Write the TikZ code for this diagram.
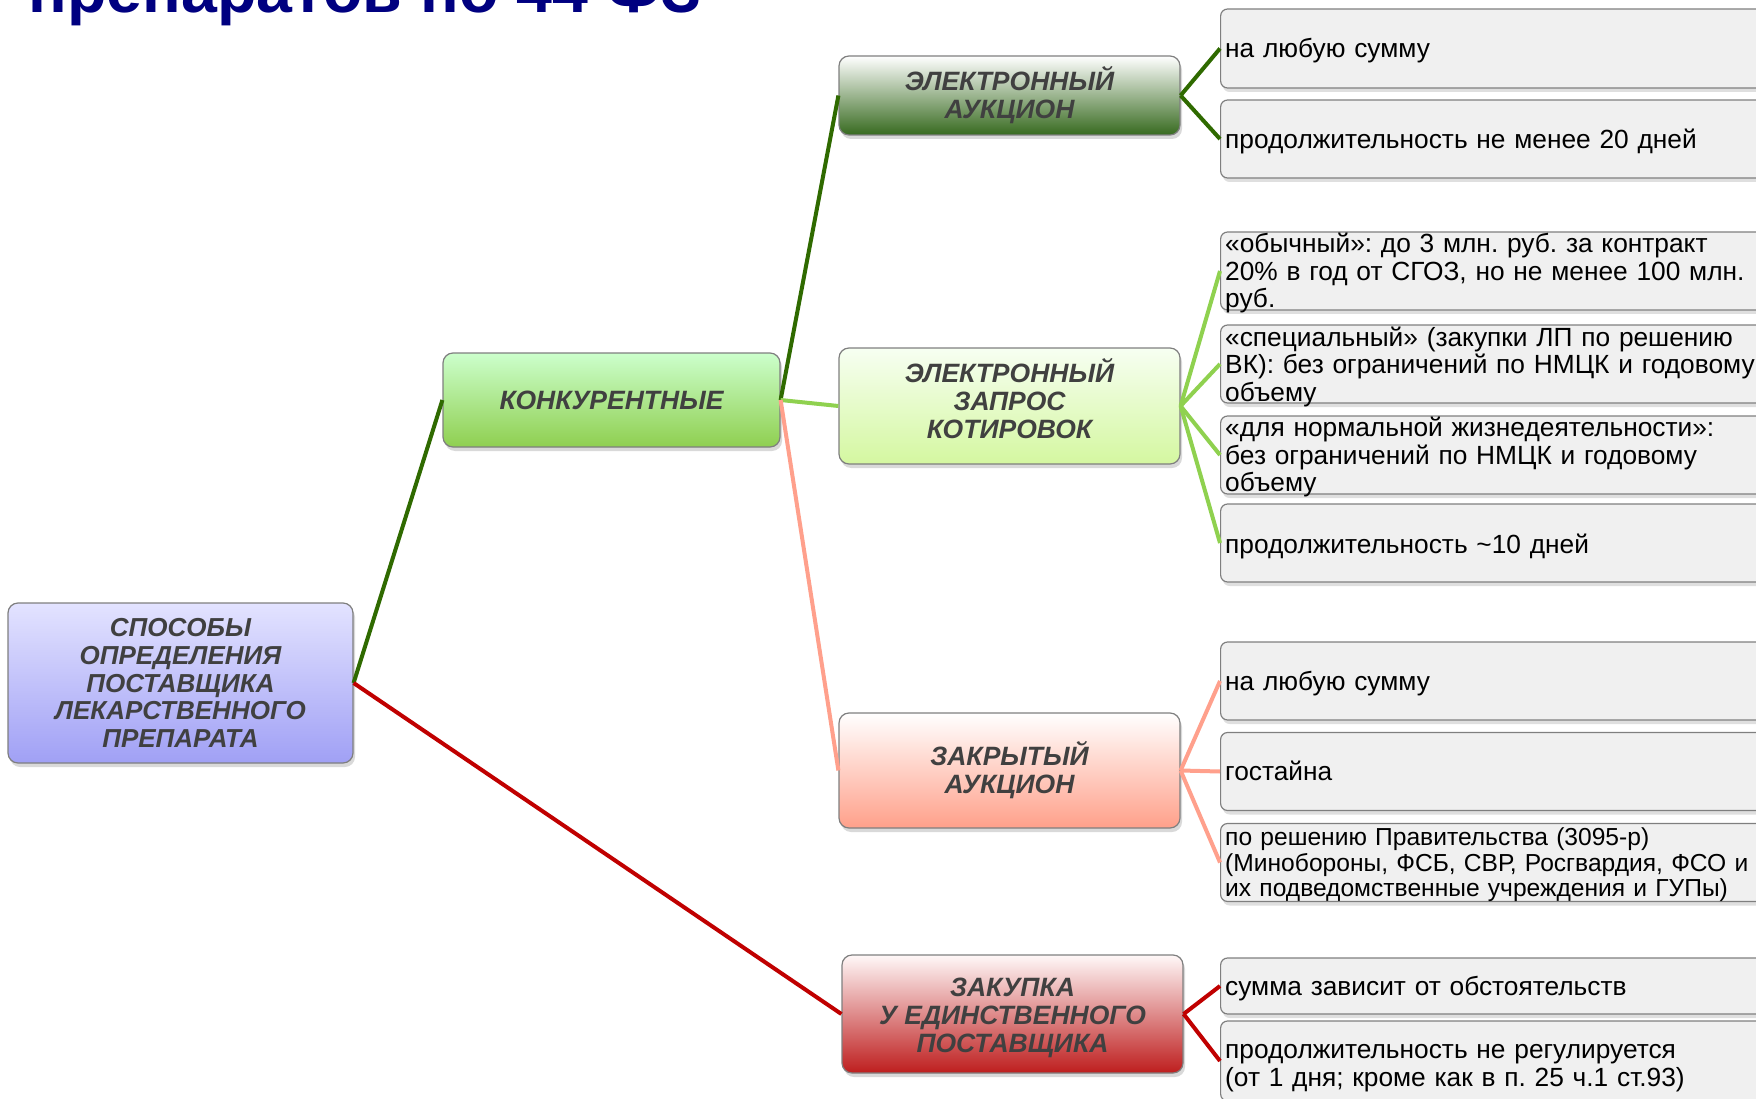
\documentclass[tikz,border=0pt]{standalone}
\usepackage{fontspec}
\setmainfont{Liberation Sans}
\usetikzlibrary{shadows}
\frenchspacing
\definecolor{titleblue}{HTML}{000080}
\definecolor{txtgray}{HTML}{404040}
\definecolor{boxedge}{HTML}{7F7F7F}
\definecolor{leaffill}{HTML}{F0F0F0}
\definecolor{cdark}{HTML}{2F6A00}
\definecolor{clight}{HTML}{8FD14F}
\definecolor{csalmon}{HTML}{FFA08C}
\definecolor{cred}{HTML}{C00000}
\definecolor{rootTop}{HTML}{E3E3FF}
\definecolor{rootBot}{HTML}{A0A0F5}
\definecolor{konkTop}{HTML}{CCFFCC}
\definecolor{konkBot}{HTML}{8FCF50}
\definecolor{eaBot}{HTML}{376A1F}
\definecolor{eqTop}{HTML}{F7FFF2}
\definecolor{eqBot}{HTML}{D4F7A0}
\definecolor{caBot}{HTML}{FFA08A}
\definecolor{ssTop}{HTML}{FFF8F8}
\definecolor{ssBot}{HTML}{BE1E1E}
\begin{document}
\begin{tikzpicture}[x=1pt,y=-1pt,
  mainbox/.style={draw=boxedge, line width=1.2pt, rounded corners=10pt,
    align=center, inner sep=2pt, text=txtgray,
    font=\fontsize{26.5}{28}\selectfont\bfseries\itshape,
    drop shadow={shadow xshift=2pt, shadow yshift=-4pt, opacity=0.3}},
  maintext/.style={align=center, inner sep=0pt, text=txtgray,
    font=\fontsize{26.5}{28}\selectfont\bfseries\itshape},
  leaf/.style={draw=boxedge, line width=1.2pt, fill=leaffill, rounded corners=7pt,
    anchor=west, minimum width=555pt, inner sep=0pt,
    minimum height=78pt,
    drop shadow={shadow xshift=2pt, shadow yshift=-4pt, opacity=0.25}},
  leaftext/.style={anchor=west, text width=545pt, align=left, inner xsep=5pt,
    inner ysep=0pt, text=black, font=\fontsize{26.3}{27.5}\selectfont},
  conn/.style={line width=4pt}
]
\useasboundingbox (0,0) rectangle (1756,1099);
\clip (0,0) rectangle (1756,1099);

% title (cut at top)
\node[anchor=base west, inner sep=0pt, text=titleblue,
  font=\fontsize{64.5}{70}\selectfont\bfseries] (title) at (28,13) {препаратов по 44 ФЗ};

% main nodes
\node[mainbox, minimum width=345pt, minimum height=160pt,
  top color=rootTop, bottom color=rootBot,
  font=\fontsize{26}{27.6}\selectfont\bfseries\itshape] (root) at (180.5,683)
  {СПОСОБЫ\\ОПРЕДЕЛЕНИЯ\\ПОСТАВЩИКА\\ЛЕКАРСТВЕННОГО\\ПРЕПАРАТА};
\node[mainbox, minimum width=337pt, minimum height=94pt,
  top color=konkTop, bottom color=konkBot] (konk) at (611.5,400) {КОНКУРЕНТНЫЕ};
\node[mainbox, minimum width=341pt, minimum height=79pt,
  top color=white, bottom color=eaBot] (ea) at (1009.5,95.5) {ЭЛЕКТРОННЫЙ\\АУКЦИОН};
\node[mainbox, minimum width=341pt, minimum height=116pt,
  top color=eqTop, bottom color=eqBot] (eq) at (1009.5,406) {};
\node[maintext] (eqt) at ([yshift=7.5pt]eq.center) {ЭЛЕКТРОННЫЙ\\ЗАПРОС\\КОТИРОВОК};
\node[mainbox, minimum width=341pt, minimum height=115pt,
  top color=white, bottom color=caBot] (ca) at (1009.5,770.5) {ЗАКРЫТЫЙ\\АУКЦИОН};
\node[mainbox, minimum width=341pt, minimum height=118pt,
  top color=ssTop, bottom color=ssBot] (ss) at (1012.5,1014) {};
\node[maintext] (sst) at ([yshift=-3.5pt]ss.center) {ЗАКУПКА\\У ЕДИНСТВЕННОГО\\ПОСТАВЩИКА};

% leaves (boxes)
\node[leaf, minimum height=79pt] (l1) at (1220,48.5) {};
\node[leaf] (l2) at (1220,139) {};
\node[leaf] (q1) at (1220,271) {};
\node[leaf] (q2) at (1220,364) {};
\node[leaf] (q3) at (1220,455) {};
\node[leaf] (q4) at (1220,543) {};
\node[leaf] (c1) at (1220,681) {};
\node[leaf] (c2) at (1220,771.5) {};
\node[leaf] (c3) at (1220,862.5) {};
\node[leaf, minimum height=56pt] (s1) at (1220,986) {};
\node[leaf, minimum height=80pt] (s2) at (1220,1061) {};

% leaves (texts)
\node[leaftext] (l1t) at ([yshift=-2.3pt]l1.west) {на любую сумму};
\node[leaftext] (l2t) at ([yshift=-2.3pt]l2.west) {продолжительность не менее 20 дней};
\node[leaftext] (q1t) at ([yshift=-2.3pt]q1.west) {«обычный»: до 3 млн. руб. за контракт\\20\% в год от СГОЗ, но не менее 100 млн.\\руб.};
\node[leaftext] (q2t) at ([yshift=-2.5pt]q2.west) {«специальный» (закупки ЛП по решению\\ВК): без ограничений по НМЦК и годовому\\объему};
\node[leaftext] (q3t) at ([yshift=-2.3pt]q3.west) {«для нормальной жизнедеятельности»:\\без ограничений по НМЦК и годовому\\объему};
\node[leaftext] (q4t) at ([yshift=-3.5pt]q4.west) {продолжительность \textasciitilde10 дней};
\node[leaftext] (c1t) at ([yshift=-2.3pt]c1.west) {на любую сумму};
\node[leaftext] (c2t) at ([yshift=1pt]c2.west) {гостайна};
\node[leaftext, font=\fontsize{24.6}{25.7}\selectfont] (c3t) at ([yshift=-2.3pt]c3.west) {по решению Правительства (3095-р)\\(Минобороны, ФСБ, СВР, Росгвардия, ФСО и\\их подведомственные учреждения и ГУПы)};
\node[leaftext] (s1t) at ([yshift=-2.3pt]s1.west) {сумма зависит от обстоятельств};
\node[leaftext, font=\fontsize{26.3}{28}\selectfont] (s2t) at ([yshift=-7pt]s2.west) {продолжительность не регулируется\\(от 1 дня; кроме как в п. 25 ч.1 ст.93)};

% connectors
\draw[conn, cdark] (root.east) -- (konk.west);
\draw[conn, cred] (root.east) -- (ss.west);
\draw[conn, cdark] (konk.east) -- (ea.west);
\draw[conn, clight] (konk.east) -- (eq.west);
\draw[conn, csalmon] (konk.east) -- (ca.west);
\draw[conn, cdark] (ea.east) -- (l1.west);
\draw[conn, cdark] (ea.east) -- (l2.west);
\foreach \n in {q1,q2,q3,q4} \draw[conn, clight] (eq.east) -- (\n.west);
\foreach \n in {c1,c2,c3} \draw[conn, csalmon] (ca.east) -- (\n.west);
\draw[conn, cred] (ss.east) -- (s1.west);
\draw[conn, cred] (ss.east) -- (s2.west);
\end{tikzpicture}
\end{document}
